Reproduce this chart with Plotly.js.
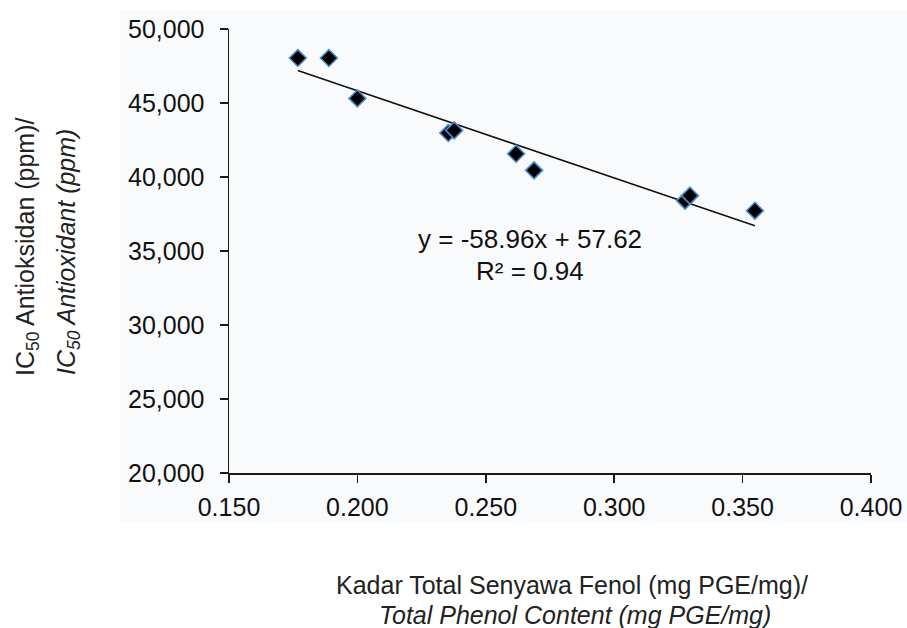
<!DOCTYPE html>
<html><head><meta charset="utf-8">
<script src="https://cdn.plot.ly/plotly-3.0.1.min.js"></script>
<style>html,body{margin:0;padding:0;background:#fff;}#chart{width:907px;height:628px;}</style>
</head><body><div id="chart"></div>
<script>
// Data
const phenol = [0.1768, 0.1889, 0.2000, 0.2354, 0.2377, 0.2618, 0.2688, 0.3276, 0.3295, 0.3548];
const ic50   = [48.04, 48.04, 45.31, 42.97, 43.15, 41.57, 40.45, 38.40, 38.74, 37.72];
const slope = -58.96;
const intercept = 57.62;
const xTicks = [0.15, 0.20, 0.25, 0.30, 0.35, 0.40];
const xTickText = ["0.150", "0.200", "0.250", "0.300", "0.350", "0.400"];
const yTicks = [20, 25, 30, 35, 40, 45, 50];
const yTickText = ["20,000", "25,000", "30,000", "35,000", "40,000", "45,000", "50,000"];

const xMin = Math.min(...phenol), xMax = Math.max(...phenol);
const trendX = [xMin, xMax];
const trendY = trendX.map(v => slope * v + intercept);

const font = "Liberation Sans, Arial, sans-serif";
const traces = [
  {x: trendX, y: trendY, type: 'scatter', mode: 'lines',
   line: {color: '#111', width: 1.6}, hoverinfo: 'skip', showlegend: false, cliponaxis: false},
  {x: phenol, y: ic50, type: 'scatter', mode: 'markers',
   marker: {symbol: 'diamond', size: 13, color: '#000', line: {color: '#4a8ccc', width: 1.6}},
   showlegend: false, cliponaxis: false}
];

const layout = {
  width: 907, height: 628,
  margin: {l: 229, r: 36, t: 29, b: 155},
  paper_bgcolor: '#ffffff', plot_bgcolor: 'rgba(0,0,0,0)',
  font: {family: font, color: '#111', size: 25},
  showlegend: false,
  xaxis: {range: [0.15, 0.40], tickvals: xTicks, ticktext: xTickText,
    showgrid: false, zeroline: false, showline: true, linecolor: '#1a1a1a', linewidth: 1.5,
    ticks: 'outside', ticklen: 8, tickwidth: 1.5, tickcolor: '#1a1a1a',
    tickfont: {family: font, size: 25, color: '#111'}, ticklabelstandoff: 3},
  yaxis: {range: [20, 50], tickvals: yTicks, ticktext: yTickText,
    showgrid: false, zeroline: false, showline: true, linecolor: '#1a1a1a', linewidth: 1.5,
    ticks: 'outside', ticklen: 8, tickwidth: 1.5, tickcolor: '#1a1a1a',
    tickfont: {family: font, size: 25, color: '#111'}, ticklabelstandoff: 10},
  shapes: [
    {type: 'rect', xref: 'paper', yref: 'paper', x0: -0.17, x1: 1.06, y0: -0.113, y1: 1.043,
     fillcolor: '#f9fafc', line: {width: 0}, layer: 'below'}
  ],
  annotations: [
    {text: 'y = -58.96x + 57.62', xref: 'paper', yref: 'paper', x: (530-229)/642, y: (473-239)/444,
     showarrow: false, font: {family: font, size: 26, color: '#111'}, xanchor: 'center', yanchor: 'middle'},
    {text: 'R² = 0.94', xref: 'paper', yref: 'paper', x: (530-229)/642, y: (473-271)/444,
     showarrow: false, font: {family: font, size: 26, color: '#111'}, xanchor: 'center', yanchor: 'middle'},
    {text: 'Kadar Total Senyawa Fenol (mg PGE/mg)/', xref: 'paper', yref: 'paper',
     x: (572-229)/642, y: (473-585)/444, showarrow: false,
     font: {family: font, size: 25, color: '#222'}, xanchor: 'center', yanchor: 'middle'},
    {text: '<i>Total Phenol Content (mg PGE/mg)</i>', xref: 'paper', yref: 'paper',
     x: (575-229)/642, y: (473-615)/444, showarrow: false,
     font: {family: font, size: 25, color: '#222'}, xanchor: 'center', yanchor: 'middle'},
    {text: 'IC<sub>50</sub> Antioksidan (ppm)/', xref: 'paper', yref: 'paper',
     x: (27-229)/642, y: (473-247)/444, showarrow: false, textangle: -90,
     font: {family: font, size: 25, color: '#222'}, xanchor: 'center', yanchor: 'middle'},
    {text: '<i>IC<sub>50</sub> Antioxidant (ppm)</i>', xref: 'paper', yref: 'paper',
     x: (68-229)/642, y: (473-252)/444, showarrow: false, textangle: -90,
     font: {family: font, size: 25, color: '#222'}, xanchor: 'center', yanchor: 'middle'}
  ]
};
Plotly.newPlot('chart', traces, layout, {displayModeBar: false, staticPlot: true});
</script></body></html>
